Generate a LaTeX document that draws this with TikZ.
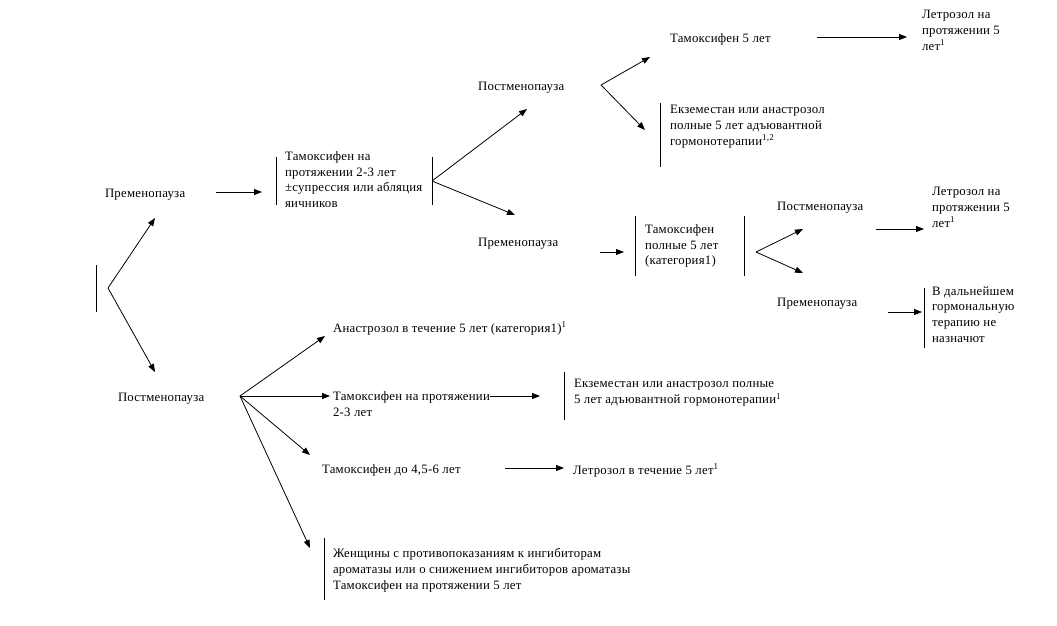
\documentclass[tikz,border=0pt]{standalone}
\usepackage{fontspec}
\setmainfont{Liberation Serif}[LetterSpace=2]
\usetikzlibrary{arrows.meta}
\tikzset{
  txt/.style={inner sep=0pt, outer sep=0pt, anchor=west, yshift=-2.5pt, font=\fontsize{12.8}{15.7}\selectfont},
  mtxt/.style={txt, anchor=north west, align=left},
  arr/.style={draw, line width=0.8pt, -{Triangle[length=8pt,width=6pt]}},
  bar/.style={draw, line width=0.9pt},
  ln/.style={draw, line width=0.8pt}
}
\begin{document}
\begin{tikzpicture}[x=1pt,y=-1pt]
\useasboundingbox (0,0) rectangle (1057,625);
% ---- left root
\coordinate (b0t) at (96,265); \coordinate (b0b) at (96,312);
\coordinate (br0) at (108,288);
\coordinate (e0a) at (155,218); \coordinate (e0b) at (155,372);
\draw[bar] (b0t) -- (b0b);
\draw[arr] (br0) -- (e0a);
\draw[arr] (br0) -- (e0b);
% ---- premenopause branch
\node[txt] (pre1) at (105,192) {Пременопауза};
\coordinate (s1) at (216,192); \coordinate (t1e) at (262,192);
\draw[arr] (s1) -- (t1e);
\node[mtxt] (t1) at (285,149) {Тамоксифен на\\протяжении 2-3 лет\\±супрессия или абляция\\яичников};
\coordinate (b1lt) at (276,157); \coordinate (b1lb) at (276,205);
\coordinate (b1rt) at (432,157); \coordinate (b1rb) at (432,205);
\draw[bar] (b1lt) -- (b1lb);
\draw[bar] (b1rt) -- (b1rb);
\coordinate (br1) at (432,181);
\coordinate (e1a) at (527,109); \coordinate (e1b) at (515,215);
\draw[arr] (br1) -- (e1a);
\draw[arr] (br1) -- (e1b);
% ---- postmenopause (upper)
\node[txt] (post2) at (478,85) {Постменопауза};
\coordinate (br2) at (601,85);
\coordinate (e2a) at (650,57); \coordinate (e2b) at (645,130);
\draw[arr] (br2) -- (e2a);
\draw[arr] (br2) -- (e2b);
\node[txt] (tam5) at (670,37) {Тамоксифен 5 лет};
\coordinate (s2) at (817,37); \coordinate (s2e) at (907,37);
\draw[arr] (s2) -- (s2e);
\node[mtxt] (let1) at (922,8) {Летрозол на\\протяжении 5\\лет\textsuperscript{1}};
\coordinate (b2t) at (660,103); \coordinate (b2b) at (660,167);
\draw[bar] (b2t) -- (b2b);
\node[mtxt] (ex1) at (670,103) {Екземестан или анастрозол\\полные 5 лет адъювантной\\гормонотерапии\textsuperscript{1,2}};
% ---- premenopause (middle)
\node[txt] (pre2) at (478,241) {Пременопауза};
\coordinate (s3) at (600,252); \coordinate (s3e) at (624,252);
\draw[arr] (s3) -- (s3e);
\coordinate (b3lt) at (635,216); \coordinate (b3lb) at (635,276);
\coordinate (b3rt) at (744,216); \coordinate (b3rb) at (744,276);
\draw[bar] (b3lt) -- (b3lb);
\draw[bar] (b3rt) -- (b3rb);
\node[mtxt] (t2) at (645,222) {Тамоксифен\\полные 5 лет\\(категория1)};
\coordinate (br3) at (756,252);
\coordinate (e3a) at (803,229); \coordinate (e3b) at (803,273);
\draw[arr] (br3) -- (e3a);
\draw[arr] (br3) -- (e3b);
\node[txt] (post3) at (777,205) {Постменопауза};
\coordinate (s4) at (876,229); \coordinate (s4e) at (924,229);
\draw[arr] (s4) -- (s4e);
\node[mtxt] (let2) at (932,185) {Летрозол на\\протяжении 5\\лет\textsuperscript{1}};
\node[txt] (pre3) at (777,301) {Пременопауза};
\coordinate (s5) at (888,312); \coordinate (s5e) at (922,312);
\draw[arr] (s5) -- (s5e);
\coordinate (b4t) at (924,288); \coordinate (b4b) at (924,348);
\draw[bar] (b4t) -- (b4b);
\node[mtxt] (vd) at (932,284) {В дальнейшем\\гормональную\\терапию не\\назначют};
% ---- postmenopause (lower)
\node[txt] (post1) at (118,396) {Постменопауза};
\coordinate (br4) at (240,396);
\coordinate (e4a) at (325,336); \coordinate (e4b) at (330,396);
\coordinate (e4c) at (310,455); \coordinate (e4d) at (310,548);
\draw[arr] (br4) -- (e4a);
\draw[arr] (br4) -- (e4b);
\draw[arr] (br4) -- (e4c);
\draw[arr] (br4) -- (e4d);
\node[txt] (an) at (333,326) {Анастрозол в течение 5 лет (категория1)\textsuperscript{1}};
\node[mtxt] (tam23) at (333,389) {Тамоксифен на протяжении\\2-3 лет};
\coordinate (s6) at (490,396); \coordinate (s6e) at (540,396);
\draw[arr] (s6) -- (s6e);
\coordinate (b5t) at (564,372); \coordinate (b5b) at (564,420);
\draw[bar] (b5t) -- (b5b);
\node[mtxt] (ex2) at (574,377) {Екземестан или анастрозол полные\\5 лет адъювантной гормонотерапии\textsuperscript{1}};
\node[txt] (tam46) at (322,468) {Тамоксифен до 4,5-6 лет};
\coordinate (s7) at (505,468); \coordinate (s7e) at (564,468);
\draw[arr] (s7) -- (s7e);
\node[txt] (let3) at (573,468) {Летрозол в течение 5 лет\textsuperscript{1}};
\coordinate (b6t) at (324,538); \coordinate (b6b) at (324,600);
\draw[bar] (b6t) -- (b6b);
\node[mtxt] (wom) at (333,546) {Женщины с противопоказаниям к ингибиторам\\ароматазы или о снижением ингибиторов ароматазы\\Тамоксифен на протяжении 5 лет};
\end{tikzpicture}
\end{document}
